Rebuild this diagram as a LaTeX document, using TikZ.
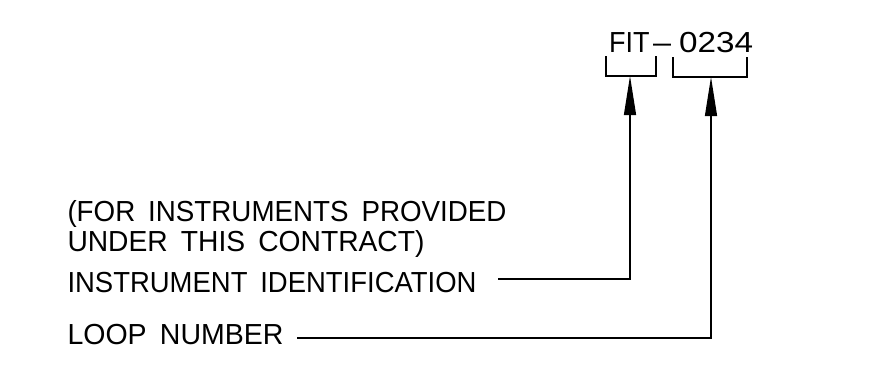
\documentclass[tikz,border=0pt]{standalone}
\usepackage{fontspec}
\setmainfont{Liberation Sans}
\usepackage{graphicx}
\usetikzlibrary{arrows.meta}
\newcommand{\lblfont}{\fontsize{29pt}{31pt}\selectfont\spaceskip 13.5pt\relax}
\tikzset{
  lbl/.style={anchor=base west, inner sep=0pt, outer sep=0pt, font={\lblfont}},
  leader/.style={line width=1.3pt, -{Triangle[length=39pt,width=12pt]}},
  brk/.style={line width=1.3pt, line join=miter},
}
\begin{document}
\begin{tikzpicture}[x=1pt,y=-1pt]
\useasboundingbox[fill=white] (0,0) rectangle (883,378);
% tag
\node[lbl] (tag) at (609,52) {\resizebox{40.5pt}{\height}{FIT}\hspace{3.5pt}\resizebox{18pt}{\height}{–}\hspace{8pt}\resizebox{74pt}{\height}{0234}};
% brackets
\draw[brk] (606,56) -- (606,76) -- (656,76) -- (656,56);
\draw[brk] (673,57) -- (673,77) -- (747,77) -- (747,57);
\coordinate (b1) at (630,76);
\coordinate (b2) at (711,77);
% texts
\node[lbl] (l1) at (67.5,221) {\resizebox{439pt}{\height}{(FOR INSTRUMENTS PROVIDED}};
\node[lbl] (l2) at (67.5,251) {\resizebox{357pt}{\height}{UNDER THIS CONTRACT)}};
\node[lbl] (id) at (67.5,292) {\resizebox{409pt}{\height}{INSTRUMENT IDENTIFICATION}};
\node[lbl] (loop) at (67.5,344) {\resizebox{216pt}{\height}{LOOP NUMBER}};
% leaders
\coordinate (s1) at (498,279);
\coordinate (s2) at (297,338);
\draw[leader] (s1) -| (b1);
\draw[leader] (s2) -| (b2);
\end{tikzpicture}
\end{document}
